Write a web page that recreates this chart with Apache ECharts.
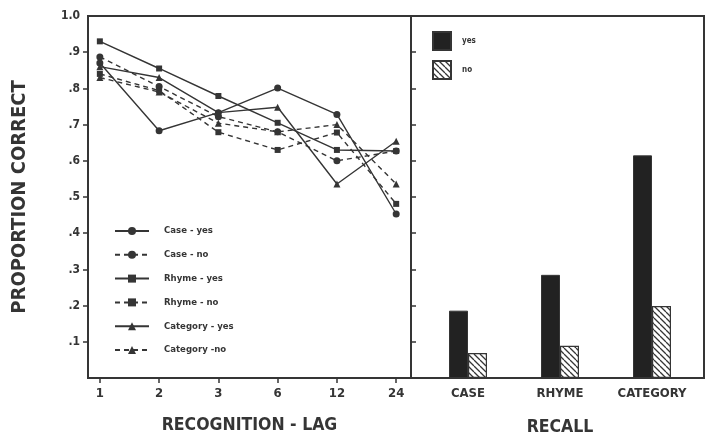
<!DOCTYPE html>
<html><head><meta charset="utf-8">
<script src="https://cdn.jsdelivr.net/npm/echarts@6/dist/echarts.min.js"></script>
<style>html,body{margin:0;padding:0;background:#fff}#c{width:707px;height:435px}</style>
</head><body><div id="c"></div>
<script>
// ---- data ----
const lags = ['1', '2', '3', '6', '12', '24'];
const caseYes = [0.870, 0.683, 0.733, 0.801, 0.728, 0.453];
const caseNo = [0.887, 0.805, 0.722, 0.680, 0.600, 0.627];
const rhymeYes = [0.930, 0.855, 0.779, 0.705, 0.630, 0.627];
const rhymeNo = [0.840, 0.794, 0.679, 0.630, 0.678, 0.481];
const categoryYes = [0.860, 0.830, 0.733, 0.748, 0.536, 0.654];
const categoryNo = [0.830, 0.790, 0.704, 0.680, 0.700, 0.536];
const recallCats = ['CASE', 'RHYME', 'CATEGORY'];
const recallYes = [0.186, 0.285, 0.615];
const recallNo = [0.069, 0.089, 0.199];
const yTickVals = [0.1, 0.2, 0.3, 0.4, 0.5, 0.6, 0.7, 0.8, 0.9];

const FONT = "'DejaVu Sans Condensed', 'Liberation Sans Narrow', 'DejaVu Sans', sans-serif";
const INK = '#353535';

function hatch() {
  const s = 6, c = document.createElement('canvas');
  c.width = c.height = s;
  const g = c.getContext('2d');
  g.fillStyle = '#fff'; g.fillRect(0, 0, s, s);
  g.strokeStyle = INK; g.lineWidth = 1.3;
  g.beginPath();
  for (const k of [-s, 0, s]) { g.moveTo(k, 0); g.lineTo(k + s, s); }
  g.stroke();
  return c;
}

const pairs = (arr) => arr.map((v, i) => [i, v]);
function lineSeries(name, data, symbol, dashed) {
  return {
    name, type: 'line', xAxisIndex: 0, yAxisIndex: 0, data: pairs(data),
    symbol, symbolSize: symbol === 'rect' ? 6 : 7,
    lineStyle: { color: INK, width: 1.4, type: dashed ? [5, 4] : 'solid' },
    itemStyle: { color: INK },
    emphasis: { disabled: true }, animation: false
  };
}

const gridBase = { top: 16, height: 362, containLabel: false, outerBoundsMode: 'none' };
const chart = echarts.init(document.getElementById('c'), null, { renderer: 'canvas' });
chart.setOption({
  backgroundColor: '#fff',
  animation: false,
  textStyle: { fontFamily: FONT },
  grid: [
    Object.assign({ left: 88, width: 323, show: true, borderColor: INK, borderWidth: 2 }, gridBase),
    Object.assign({ left: 411, width: 293, show: true, borderColor: INK, borderWidth: 2 }, gridBase),
    Object.assign({ left: 422, width: 276, show: false }, gridBase)
  ],
  xAxis: [
    {
      gridIndex: 0, type: 'value', min: -0.2, max: 5.25, position: 'bottom',
      name: 'RECOGNITION - LAG', nameLocation: 'middle', nameGap: 38,
      nameTextStyle: { fontFamily: FONT, fontWeight: 'bold', fontSize: 17.5, color: INK },
      axisLine: { onZero: false, lineStyle: { color: INK, width: 2 } },
      axisTick: { show: true, length: 5, lineStyle: { color: INK, width: 1.5 }, customValues: [0, 1, 2, 3, 4, 5] },
      axisLabel: { customValues: [0, 1, 2, 3, 4, 5], formatter: v => lags[Math.round(v)] ?? '', margin: 9,
        fontFamily: FONT, fontWeight: 'bold', fontSize: 13, color: INK },
      splitLine: { show: false }
    },
    {
      gridIndex: 1, type: 'value', min: 0, max: 1, position: 'bottom', show: false,
      axisLine: { show: false, onZero: false }, axisTick: { show: false }, axisLabel: { show: false }, splitLine: { show: false }
    },
    {
      gridIndex: 2, type: 'category', data: recallCats, position: 'bottom',
      name: 'RECALL', nameLocation: 'middle', nameGap: 40,
      nameTextStyle: { fontFamily: FONT, fontWeight: 'bold', fontSize: 17.5, color: INK },
      axisLine: { show: false, onZero: false }, axisTick: { show: false },
      axisLabel: { margin: 9, fontFamily: FONT, fontWeight: 'bold', fontSize: 13, color: INK },
      splitLine: { show: false }
    }
  ],
  yAxis: [
    {
      gridIndex: 0, type: 'value', min: 0, max: 1, position: 'left',
      name: 'PROPORTION CORRECT', nameLocation: 'middle', nameGap: 58,
      nameTextStyle: { fontFamily: FONT, fontWeight: 'bold', fontSize: 20, color: INK },
      axisLine: { show: true, onZero: false, lineStyle: { color: INK, width: 2 } },
      axisTick: { show: true, length: 5, lineStyle: { color: INK, width: 1.5 }, customValues: yTickVals },
      axisLabel: { customValues: yTickVals.concat([1]), margin: 8,
        formatter: v => v >= 0.999 ? '1.0' : '.' + Math.round(v * 10),
        fontFamily: FONT, fontWeight: 'bold', fontSize: 12, color: INK },
      splitLine: { show: false }
    },
    {
      gridIndex: 1, type: 'value', min: 0, max: 1, position: 'left',
      axisLine: { show: true, onZero: false, lineStyle: { color: INK, width: 2 } },
      axisTick: { show: true, inside: true, length: 5, lineStyle: { color: INK, width: 1.5 }, customValues: yTickVals },
      axisLabel: { show: false }, splitLine: { show: false }
    },
    {
      gridIndex: 2, type: 'value', min: 0, max: 1, show: false, splitLine: { show: false }
    }
  ],
  legend: [
    {
      orient: 'vertical', left: 114, top: 226, padding: 0, itemWidth: 34, itemHeight: 10, itemGap: 13.8,
      data: ['Case - yes', 'Case - no', 'Rhyme - yes', 'Rhyme - no', 'Category - yes', 'Category -no'],
      textStyle: { fontFamily: FONT, fontWeight: 'bold', fontSize: 9.5, color: INK, padding: [0, 0, 0, 10] },
      selectedMode: false
    },
    {
      orient: 'vertical', left: 432, top: 31, padding: 0, itemWidth: 18, itemHeight: 18, itemGap: 9,
      data: [{ name: 'yes', icon: 'rect' }, { name: 'no', icon: 'rect' }],
      textStyle: { fontFamily: FONT, fontWeight: 'bold', fontSize: 8, color: INK, padding: [0, 0, 0, 6] },
      selectedMode: false
    }
  ],
  series: [
    lineSeries('Case - yes', caseYes, 'circle', false),
    lineSeries('Case - no', caseNo, 'circle', true),
    lineSeries('Rhyme - yes', rhymeYes, 'rect', false),
    lineSeries('Rhyme - no', rhymeNo, 'rect', true),
    lineSeries('Category - yes', categoryYes, 'triangle', false),
    lineSeries('Category -no', categoryNo, 'triangle', true),
    {
      name: 'yes', type: 'bar', xAxisIndex: 2, yAxisIndex: 2, data: recallYes,
      barWidth: 19, barGap: '0%',
      itemStyle: { color: '#222222', borderColor: INK, borderWidth: 1 },
      emphasis: { disabled: true }
    },
    {
      name: 'no', type: 'bar', xAxisIndex: 2, yAxisIndex: 2, data: recallNo,
      barWidth: 19, barGap: '0%',
      itemStyle: { color: { image: hatch(), repeat: 'repeat' }, borderColor: INK, borderWidth: 1.2 },
      emphasis: { disabled: true }
    }
  ]
});
</script>
</body></html>
